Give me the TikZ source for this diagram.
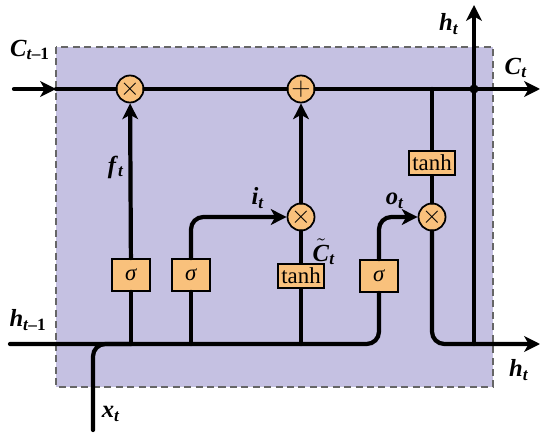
\documentclass[tikz,border=0pt]{standalone}
\usepackage{fontspec}
\setmainfont{Liberation Serif}
\usetikzlibrary{arrows.meta,positioning}

\definecolor{cellbg}{RGB}{197,193,226}
\definecolor{gatefill}{RGB}{249,193,124}
\newcommand{\lbl}[1]{\textbf{\textit{#1}}}

\tikzset{
  wire/.style={line width=2.4pt,line cap=round},
  gate/.style={draw,line width=1pt,fill=gatefill,inner sep=0pt,font=\fontsize{13}{15}\selectfont},
  sig/.style={gate,minimum width=0.76cm,minimum height=0.64cm},
  th/.style={gate,minimum width=0.92cm,minimum height=0.49cm},
  op/.style={gate,circle,minimum size=0.54cm,font=\fontsize{14}{16}\selectfont},
  lab/.style={font=\fontsize{14}{16}\selectfont,inner sep=0pt}
}

\begin{document}
\begin{tikzpicture}[x=0.02cm,y=-0.02cm,>={Stealth[length=9pt,width=9pt,inset=2.5pt]}]
\useasboundingbox (0,0) rectangle (550,435);
\draw[dashed,dash pattern=on 4pt off 2.5pt,line width=1.1pt,draw=black!60,fill=cellbg] (56,47) rectangle (493,387);

% coordinates of the free ends
\coordinate (cin) at (14,89);
\coordinate (cbox) at (56,89);
\coordinate (cout) at (540,89);
\coordinate (hin) at (10,344);
\coordinate (hout) at (540,344);
\coordinate (hj) at (474,344);
\coordinate (hc) at (474,89);
\coordinate (htop) at (474,5);
\coordinate (xin) at (93,430);

% gates
\node[op] (mf) at (130,89) {$\times$};
\node[op] (pc) at (301,89) {$+$};
\node[op] (mi) at (301,217) {$\times$};
\node[op] (mo) at (432,217) {$\times$};
\node[sig] (sf) at (131,275) {\textit{σ}};
\node[sig] (si) at (191,275) {\textit{σ}};
\node[th] (tc) at (301,276) {tanh};
\node[sig] (so) at (379,276) {\textit{σ}};
\node[th] (tho) at (432,163) {tanh};

% cell state
\draw[wire,->] (cin) -- (cbox);
\draw[wire] (cbox) -- (mf);
\draw[wire] (mf) -- (pc);
\draw[wire,->] (pc) -- (cout);

% hidden state and input
\draw[wire,rounded corners=7pt] (hin) -| (so);
\draw[wire,rounded corners=7pt] (xin) |- (sf |- hin);
\draw[wire] (sf) -- (sf |- hin);
\draw[wire] (si) -- (si |- hin);
\draw[wire] (tc) -- (tc |- hin);

% gates to operators
\draw[wire,->] (sf) -- (mf);
\draw[wire,->,rounded corners=7pt] (si) |- (mi);
\draw[wire] (tc) -- (mi);
\draw[wire,->] (mi) -- (pc);
\draw[wire,->,rounded corners=7pt] (so) |- (mo);
\draw[wire] (tho |- cin) -- (tho);
\draw[wire] (tho) -- (mo);
\draw[wire,->,rounded corners=7pt] (mo) |- (hout);
\draw[wire,->] (hj) -- (htop);
\fill (hc) circle (2.6pt);

% labels
\node[lab] (lc0) at (30,50) {\lbl{C}\textsubscript{\lbl{t}\textbf{–1}}};
\node[lab] (lf) at (116,167) {\lbl{f}\textsubscript{\lbl{t}}};
\node[lab] (li) at (258,198) {\lbl{i}\textsubscript{\lbl{t}}};
\node[lab] (lct) at (324,252) {$\tilde{\mbox{\lbl{C}}}$\textsubscript{\lbl{t}}};
\node[lab] (lo) at (395,201) {\lbl{o}\textsubscript{\lbl{t}}};
\node[lab] (lh1) at (449,24) {\lbl{h}\textsubscript{\lbl{t}}};
\node[lab] (lc1) at (516,68) {\lbl{C}\textsubscript{\lbl{t}}};
\node[lab] (lh2) at (519,370) {\lbl{h}\textsubscript{\lbl{t}}};
\node[lab] (lh0) at (28,320) {\lbl{h}\textsubscript{\lbl{t}\textbf{–1}}};
\node[lab] (lx) at (111,414) {\lbl{x}\textsubscript{\lbl{t}}};
\end{tikzpicture}
\end{document}
